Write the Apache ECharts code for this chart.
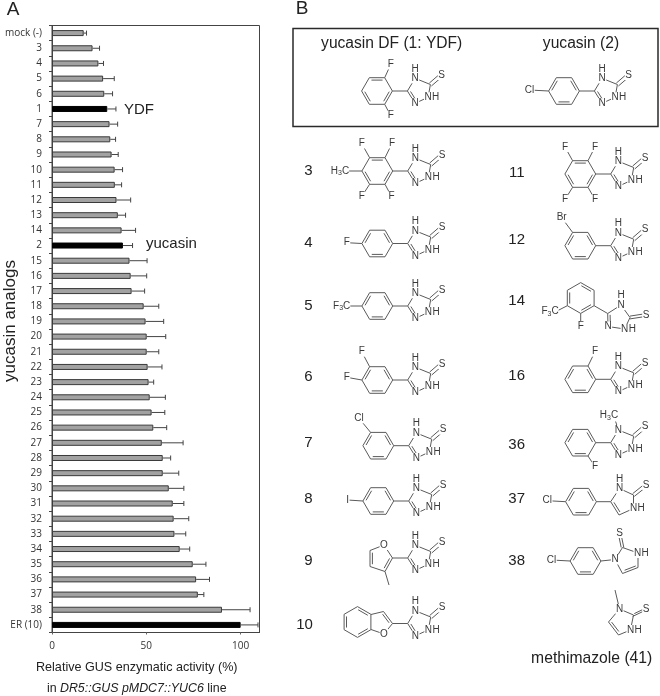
<!DOCTYPE html>
<html><head><meta charset="utf-8">
<style>html,body{margin:0;padding:0;background:#fff}#c{width:660px;height:696px}</style>
<script src="https://cdn.jsdelivr.net/npm/echarts@6/dist/echarts.min.js"></script>
</head><body><div id="c"></div>
<script>
const categories = ['mock (-)','3','4','5','6','1','7','8','9','10','11','12','13','14','2','15','16','17','18','19','20','21','22','23','24','25','26','27','28','29','30','31','32','33','34','35','36','37','38','ER (10)'];
const activity = [16.8,21.5,24.6,27.1,27.7,29.3,30.5,30.9,31.6,33.2,33.3,34.2,34.9,36.9,37.6,41.1,41.7,42.2,48.6,49.6,50.2,50.2,50.7,51.2,51.8,52.8,53.7,58.2,58.7,58.7,61.9,64,64.5,64.9,67.7,74.6,76.4,77.3,90.1,100];
const errorTop = [18.3,25.2,27.3,33,32.1,33.9,34.8,33.7,35.1,37.4,36.9,41.7,39,44.3,42.7,50.4,50.2,49.1,56.6,59.2,60.3,56.6,58.3,53.9,60.1,59.8,60.8,69.5,62.9,67.2,69.9,69.9,72.5,70.9,73,81.6,83.5,80.5,105,109.2];
const highlighted = ['1','2','ER (10)'];
const xTicks = [0,50,100];

const SANS = '"Liberation Sans", Arial, sans-serif';
const BOND = '#5a5a5a', ATOM = '#3a3a3a', R = 15.4, RH = 13.3;
const g = [];      // line elements
const labels = []; // atom/text elements drawn over the lines

function line(a,b,w){ g.push({type:'line',silent:true,z:5,shape:{x1:a[0],y1:a[1],x2:b[0],y2:b[1]},style:{stroke:BOND,lineWidth:w||1}}); }
function inner(a,b,c){ // inner parallel line of a double bond, shifted towards c
  const mx=(a[0]+b[0])/2,my=(a[1]+b[1])/2; let dx=c[0]-mx,dy=c[1]-my; const l=Math.hypot(dx,dy)||1; dx=dx/l*2.4;dy=dy/l*2.4;
  const sx=(b[0]-a[0])*.14,sy=(b[1]-a[1])*.14;
  line([a[0]+dx+sx,a[1]+dy+sy],[b[0]+dx-sx,b[1]+dy-sy]);
}
function ring(pts,dbl){
  const c=[pts.reduce((s,p)=>s+p[0],0)/pts.length,pts.reduce((s,p)=>s+p[1],0)/pts.length];
  pts.forEach((p,i)=>{const q=pts[(i+1)%pts.length];line(p,q);if(dbl.includes(i))inner(p,q,c);});
}
function atom(t,x,y,mask,size){
  labels.push({type:'text',silent:true,z:6,x:x,y:y,style:{text:t,font:(size||10)+'px '+SANS,fill:ATOM,align:'center',verticalAlign:'middle',backgroundColor:mask===false?'transparent':'#fff',padding:mask===false?0:[0,0.5]}});
}
function text(t,x,y,size,align,color){
  labels.push({type:'text',silent:true,z:6,x:x,y:y,style:{text:t,font:size+'px '+SANS,fill:color||'#222',align:align||'center',verticalAlign:'middle'}});
}
function sub32(base,sub,rest,x,y){ // e.g. H3C, F3C label
  labels.push({type:'text',silent:true,z:6,x:x,y:y,style:{rich:{a:{font:'10px '+SANS,fill:ATOM},s:{font:'7px '+SANS,fill:ATOM,verticalAlign:'bottom',padding:[5,0,0,0]}},text:'{a|'+base+'}{s|'+sub+'}{a|'+rest+'}',align:'center',verticalAlign:'middle',backgroundColor:'#fff'}});
}
function hexFlat(cx,cy){ return [[cx+R,cy],[cx+R/2,cy+RH],[cx-R/2,cy+RH],[cx-R,cy],[cx-R/2,cy-RH],[cx+R/2,cy-RH]]; }
function hexPoint(cx,cy){ const r=15.4,h=13.4; return [[cx,cy-r],[cx+h,cy-r/2],[cx+h,cy+r/2],[cx,cy+r],[cx-h,cy+r/2],[cx-h,cy-r/2]]; }
function phenyl(cx,cy,subs,dbl){
  const v=hexFlat(cx,cy); ring(v,dbl||[1,3,5]);
  (subs||[]).forEach(s=>{ line(v[s[0]],[s[2],s[3]]); if(s[4]) sub32(s[1],'3',s[4],s[2],s[3]); else atom(s[1],s[2],s[3]); });
  return v;
}
function triazole(ax,ay,methyl){
  const n1=[ax+7.7,ay-12.7],c5=[ax+23,ay-6.5],n2=[ax+20.7,ay+6.3],n3=[ax+7.7,ay+12.3],s=[ax+34,ay-16];
  line([ax,ay],n1);line(n1,c5);line(c5,n2);line(n2,n3);line(n3,[ax,ay]);
  inner(n3,[ax,ay],[ax+14,ay]);
  line([c5[0]-1,c5[1]-1.5],[s[0]-1,s[1]-1.5]);line([c5[0]+1,c5[1]+1.5],[s[0]+1,s[1]+1.5]);
  atom('N',n1[0],n1[1]); if(!methyl) atom('H',n1[0],n1[1]-9.3,false);
  atom('N',n2[0],n2[1]); atom('H',n2[0]+7.6,n2[1],false);
  atom('N',n3[0],n3[1]); atom('S',s[0]+.3,s[1]);
}
function phenylTriazole(cx,cy,subs,dbl){ phenyl(cx,cy,subs,dbl); line([cx+R,cy],[cx+R+15,cy]); triazole(cx+R+15,cy); }

// Panel B: framed compounds
phenylTriazole(377,91,[[5,'F',390.7,64.5],[1,'F',390.7,115.7]],[0,2,4]);
phenylTriazole(564,91,[[3,'Cl',529.5,90]]);
// Left column
phenylTriazole(377.3,171,[[4,'F',361.7,143.5],[5,'F',392,143.5],[2,'F',361.7,196.5],[1,'F',391.5,196.5],[3,'H',340,171,'C']],[0,2,4]);
phenylTriazole(377.3,243.5,[[3,'F',346.7,242.7]]);
phenylTriazole(377.3,306,[[3,'F',341.7,306,'C']]);
phenylTriazole(377.3,380,[[4,'F',361.7,351.7],[3,'F',346.7,377.3]]);
phenylTriazole(378.3,445.7,[[4,'Cl',359,418.3]]);
phenylTriazole(378.3,501,[[3,'I',347.7,500]]);
// 9: 3-methylfuran
(function(){
  const p=[[392.5,558],[384,545],[370,550.5],[370,566.5],[385,571.5]];
  ring(p,[2,4]); line(p[0],[407.7,558]); line(p[4],[389,585]); atom('O',384,545); triazole(407.7,558);
})();
// 10: benzofuran
(function(){
  const p=hexPoint(357.5,622); ring(p,[0,2,4]);
  const f=[[371,614.5],[383.5,611.5],[392.5,623.5],[384,634],[371,629.5]];
  line(f[0],f[1]);line(f[1],f[2]);inner(f[1],f[2],[378,622]);line(f[2],f[3]);line(f[3],f[4]);
  atom('O',384,634); line(f[2],[407.7,623.5]); triazole(407.7,623.5);
})();
// Right column
phenylTriazole(580.3,174,[[4,'F',565,147],[5,'F',595,147],[2,'F',565,199.5],[1,'F',595,199.5]],[0,2,4]);
phenylTriazole(580.3,245.7,[[4,'Br',561.7,217.7]]);
// 14
(function(){
  const v=hexPoint(580.7,298); ring(v,[0,2,4]);
  const a=[607.7,313.5],n1=[621,305],c5=[630,317.5],n2=[624.7,329],n3=[608,326.5],s=[646,315];
  line(v[2],a); line(a,n1);line(n1,c5);line(c5,n2);line(n2,n3);line(n3,a);inner(n3,a,[618,318]);
  line([c5[0],c5[1]-1.4],[s[0],s[1]-1.4]);line([c5[0],c5[1]+1.4],[s[0],s[1]+1.4]);
  atom('N',n1[0],n1[1]);atom('H',n1[0],n1[1]-9.3,false);atom('N',n2[0],n2[1]);atom('H',n2[0]+7.6,n2[1],false);atom('N',n3[0],n3[1]);atom('S',s[0],s[1]);
  line(v[4],[556,311.5]);sub32('F','3','C',550,311.5);
  line(v[3],[580.7,326]);atom('F',580.7,326);
})();
phenylTriazole(580.3,379.3,[[5,'F',595,351.7]]);
// 36: N-methyl
(function(){
  const cx=580.3,cy=442.7,v=phenyl(cx,cy,[[1,'F',595,466.7]]);
  const ax=cx+R+15; line([cx+R,cy],[ax,cy]); triazole(ax,cy,true);
  line([ax+7.7,cy-12.7],[ax+4,cy-24]); sub32('H','3','C',609,415.5);
})();
// 37: imidazole
(function(){
  const cx=581,cy=501.7; phenyl(cx,cy,[[3,'Cl',547.3,500.7]]);
  const a=[610.7,cy],n1=[619.5,488.5],c2=[633.5,495],n2=[633.5,508.5],c4=[619,515],s=[646,485];
  line([cx+R,cy],a);line(a,n1);line(n1,c2);line(c2,n2);line(n2,c4);line(c4,a);inner(c4,a,[626,502]);
  line([c2[0]-.8,c2[1]-1.4],[s[0]-.8,s[1]-1.4]);line([c2[0]+.8,c2[1]+1.4],[s[0]+.8,s[1]+1.4]);
  atom('N',n1[0],n1[1]);atom('H',n1[0],n1[1]-9.3,false);atom('N',n2[0],n2[1]);atom('H',n2[0]+7.6,n2[1],false);atom('S',s[0],s[1]);
})();
// 38
(function(){
  const cx=585.5,cy=561; phenyl(cx,cy,[[3,'Cl',551.5,560]]);
  const n=[615,559.5],c2=[622.5,547.5],n2=[638,553],c4=[638,567.5],c5=[622.5,573.5],s=[619.5,533];
  line([cx+R,cy],n);line(n,c2);line(c2,n2);line(n2,c4);line(c4,c5);inner(c4,c5,[630,560]);line(c5,n);
  line([c2[0]-1.3,c2[1]],[s[0]-1.3,s[1]]);line([c2[0]+1.3,c2[1]],[s[0]+1.3,s[1]]);
  atom('N',n[0],n[1]);atom('N',n2[0]-.5,n2[1]);atom('H',n2[0]+7,n2[1],false);atom('S',s[0],s[1]);
})();
// methimazole
(function(){
  const n=[619.5,609],c2=[633.5,615],n2=[630.5,630],c4=[618.5,635],c5=[608.5,622],s=[646,609],m=[615,590];
  line(n,c2);line(c2,n2);line(n2,c4);line(c4,c5);inner(c4,c5,[622,620]);line(c5,n);line(n,m);
  line([c2[0]+.8,c2[1]-1.4],[s[0]+.8,s[1]-1.4]);line([c2[0]-.8,c2[1]+1.4],[s[0]-.8,s[1]+1.4]);
  atom('N',n[0],n[1]);atom('N',n2[0],n2[1]);atom('H',n2[0]+7.6,n2[1],false);atom('S',s[0],s[1]);
})();

// Panel letters, titles, compound numbers
text('A',13,10,19);text('B',302,9,19);
text('YDF',124,110,15,'left');text('yucasin',146,244,15,'left');
text('yucasin DF (1: YDF)',391.7,44,15.6);text('yucasin (2)',581,44,15.6);
text('methimazole (41)',591.7,659,15.7);
[['3',171],['4',243],['5',306],['6',377],['7',443],['8',499],['9',561],['10',625]].forEach(n=>text(n[0],n[0].length>1?304.5:308.5,n[1],15));
[['11',173],['12',240],['14',301],['16',376],['36',445],['37',499],['38',561]].forEach(n=>text(n[0],516.7,n[1],15));
g.push({type:'rect',silent:true,z:4,shape:{x:293,y:28.5,width:365,height:98},style:{fill:'none',stroke:'#2a2a2a',lineWidth:1.5}});

const chart = echarts.init(document.getElementById('c'),null,{renderer:'canvas'});
chart.setOption({
  animation:false,
  grid:{show:true,left:52,top:25.5,width:207.5,height:607,borderColor:'#444',borderWidth:1,backgroundColor:'transparent',containLabel:false,outerBoundsMode:'none'},
  xAxis:{type:'value',min:0,max:110,
    name:'{a|Relative GUS enzymatic activity (%)}\n{b|in }{i|DR5::GUS pMDC7::YUC6}{b| line}',
    nameLocation:'middle',nameGap:25,nameMoveOverlap:false,
    nameTextStyle:{rich:{a:{fontFamily:'Liberation Sans',fontSize:12.6,color:'#222',height:21,align:'center'},b:{fontFamily:'Liberation Sans',fontSize:12.4,color:'#222',height:21},i:{fontFamily:'Liberation Sans',fontStyle:'italic',fontSize:12.4,color:'#222',height:21}},verticalAlign:'top',padding:[0,38,0,0]},
    axisLine:{show:true,lineStyle:{color:'#444'}},
    axisTick:{show:true,length:2,lineStyle:{color:'#666'},customValues:xTicks},
    splitLine:{show:false},
    axisLabel:{customValues:xTicks,fontFamily:'"Open Sans"',fontSize:10,color:'#333',margin:9}},
  yAxis:{type:'category',inverse:true,data:categories,
    name:'yucasin analogs',nameLocation:'middle',nameRotate:90,nameGap:33,nameMoveOverlap:false,
    nameTextStyle:{fontSize:17,fontFamily:'Liberation Sans',color:'#222',padding:[0,0,0,16]},
    axisLine:{show:true,lineStyle:{color:'#444'}},
    axisTick:{show:true,length:3,alignWithLabel:false,lineStyle:{color:'#444'}},
    axisLabel:{interval:0,fontFamily:'"Open Sans"',fontSize:10,color:'#333',margin:10}},
  series:[
    {type:'bar',barWidth:6,silent:true,
      data:activity.map((v,i)=>({value:v,itemStyle:highlighted.includes(categories[i])?{color:'#000',borderColor:'#000',borderWidth:1}:{color:'#a2a2a2',borderColor:'#3a3a3a',borderWidth:1}}))},
    {type:'custom',silent:true,z:3,
      data:activity.map((v,i)=>[v,errorTop[i],categories[i]]),
      encode:{x:[0,1],y:2},
      renderItem:function(p,api){
        const a=api.coord([api.value(0),p.dataIndex]),b=api.coord([api.value(1),p.dataIndex]);
        const st={stroke:'#444',lineWidth:1};
        return {type:'group',children:[
          {type:'line',shape:{x1:a[0],y1:a[1],x2:b[0],y2:b[1]},style:st},
          {type:'line',shape:{x1:b[0],y1:b[1]-2.5,x2:b[0],y2:b[1]+2.5},style:st}]};
      }}
  ],
  graphic:{elements:g.concat(labels)}
});
</script></body></html>
